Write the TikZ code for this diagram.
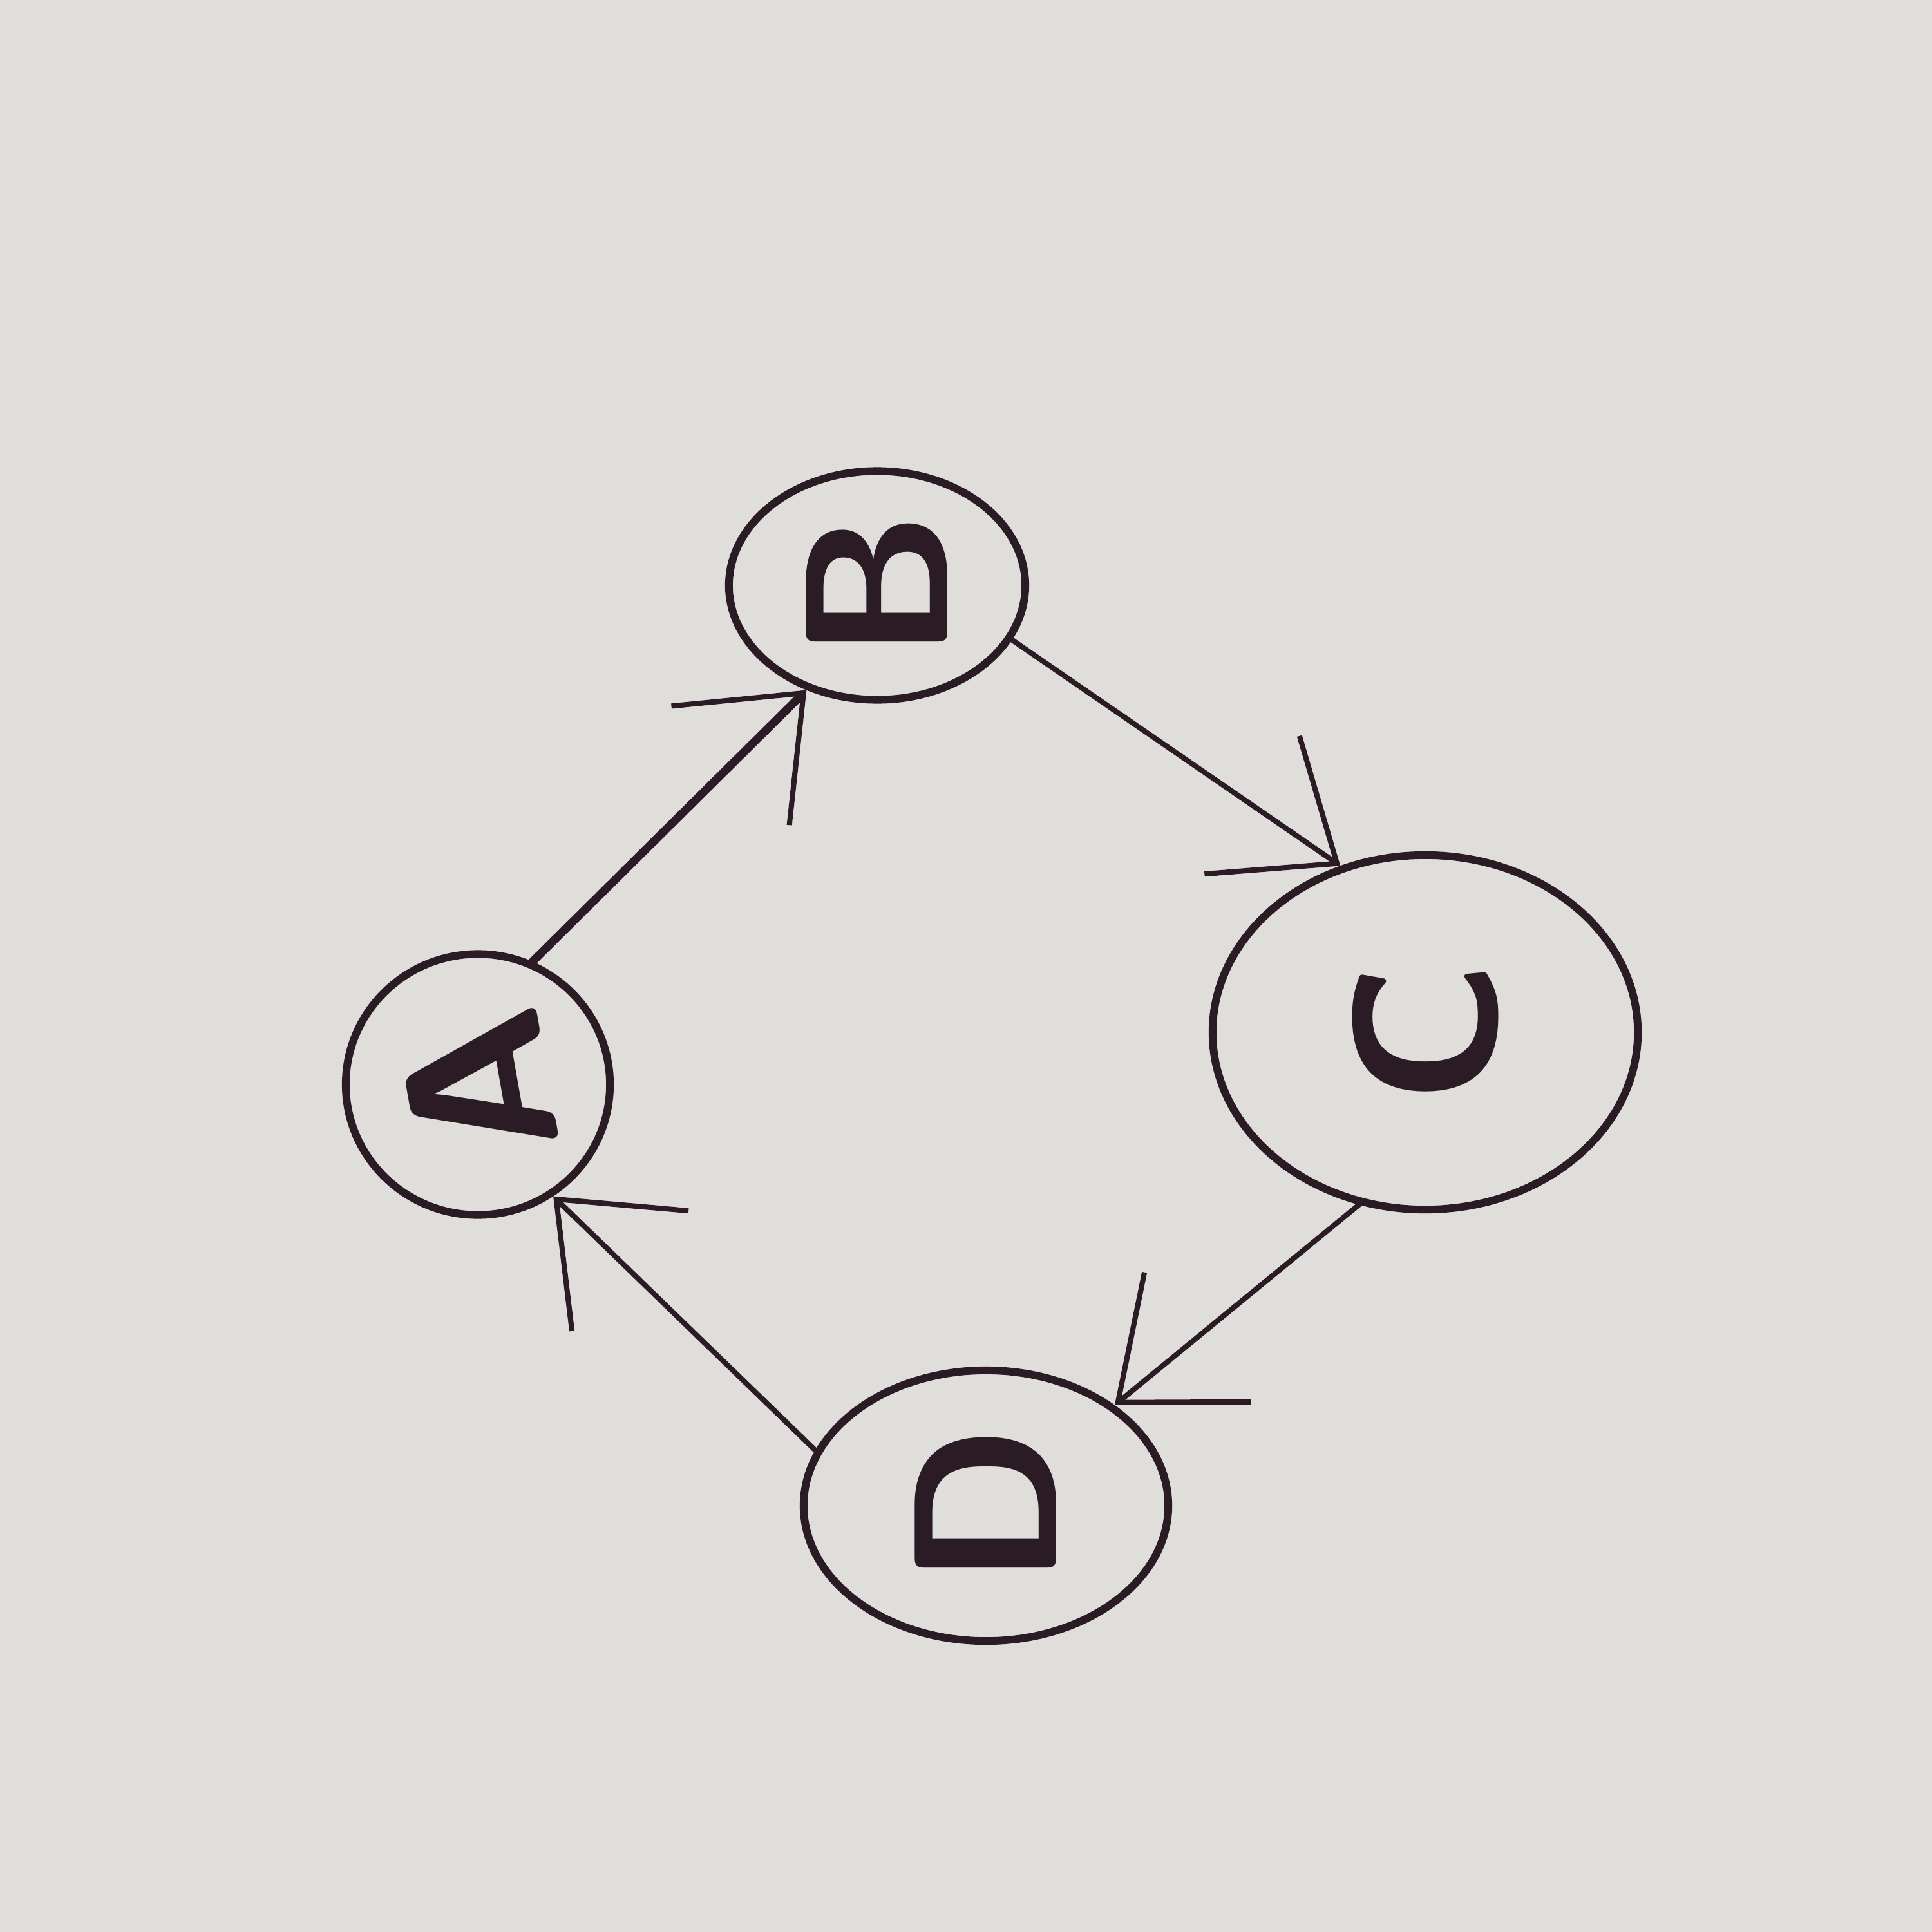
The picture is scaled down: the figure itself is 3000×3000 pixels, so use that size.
\documentclass[tikz,border=0pt]{standalone}
\usetikzlibrary{shapes.geometric,arrows.meta}
\definecolor{paper}{HTML}{DFDEDA}
\definecolor{ink}{HTML}{2A1B24}
\begin{document}
\begin{tikzpicture}[x=0.01cm,y=-0.01cm,
  state/.style={ellipse,draw=ink,line width=3.4pt,inner sep=0pt,text=ink,
    font=\sffamily\bfseries\fontsize{90}{90}\selectfont},
  link/.style={draw=ink,line width=2.3pt,line cap=round,
    -{Straight Barb[length=1.6cm,width=2.6cm,line width=2.3pt]}},
  thick link/.style={link,line width=3.6pt}]
\fill[paper] (0,0) rectangle (3000,3000);
\useasboundingbox (0,0) rectangle (3000,3000);
\node[state,minimum width=4.1cm,minimum height=4.05cm] (A) at (742,1684) {\rotatebox{100}{A}};
\node[state,minimum width=4.6cm,minimum height=3.55cm] (B) at (1362,909) {\rotatebox{90}{B}};
\node[state,minimum width=6.6cm,minimum height=5.5cm] (C) at (2213,1603) {\rotatebox{90}{C}};
\node[state,minimum width=5.66cm,minimum height=4.2cm] (D) at (1531,2338) {\rotatebox{90}{D}};
\draw[thick link] (A.66) -- (B.236);
\draw[link] (B.-22) -- (C.117);
\draw[link] (C.249) -- (D.38);
\draw[link] (D.162) -- (A.-56);
\end{tikzpicture}
\end{document}
